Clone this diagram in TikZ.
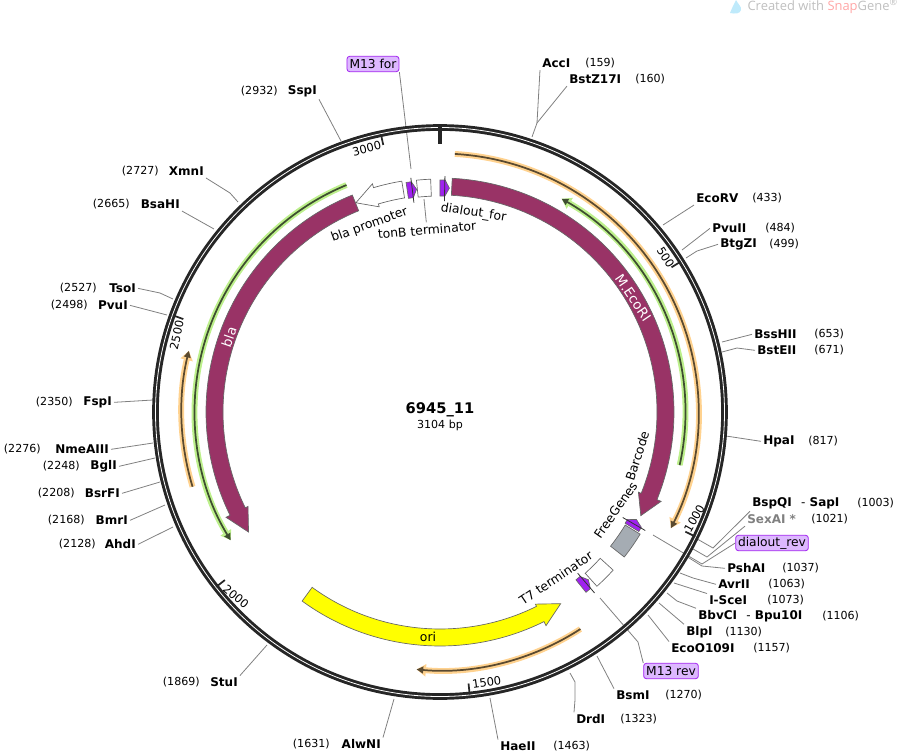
\documentclass[tikz,border=0pt]{standalone}
\usepackage{fontspec}
\setmainfont{DejaVu Sans}
\newfontfamily\markfont{Open Sans}
\usetikzlibrary{arrows.meta}

\definecolor{maroonf}{HTML}{993366}
\definecolor{purplef}{HTML}{A020F0}
\definecolor{greyf}{HTML}{A5ACB3}
\definecolor{yellowf}{HTML}{FFFF00}
\definecolor{primerbox}{HTML}{DDB8FF}
\definecolor{orangehalo}{HTML}{FFD28F}
\definecolor{orangeline}{HTML}{5A4A30}
\definecolor{greenhalo}{HTML}{BDF08C}
\definecolor{greenline}{HTML}{3E4E30}

\tikzset{
  site/.style={font=\fontsize{9}{11}\selectfont\bfseries, inner sep=1.5pt, yshift=-1pt},
  num/.style={font=\fontsize{8.3}{10}\selectfont, inner sep=1.5pt, yshift=-1pt},
  lead/.style={draw=black!50, line width=0.6pt},
  primer/.style={draw=purplef, fill=primerbox, rounded corners=2pt, line width=0.6pt, inner sep=0pt,
    minimum height=11.5pt, font=\fontsize{9.2}{11}\selectfont},
  feat/.style={draw=black!60, line width=0.5pt},
  flabel/.style={font=\fontsize{9.3}{11}\selectfont, inner sep=2pt},
  tlabel/.style={font=\fontsize{8.6}{11}\selectfont, inner sep=0pt},
  tick/.style={line width=1.3pt, black!85},
  orangeh/.style={orangehalo, line width=4.4pt, -{Stealth[length=7pt,width=9pt,inset=0pt]}},
  orangel/.style={orangeline, line width=1.3pt, -{Stealth[length=5pt,width=5pt,inset=0pt]}},
  greenh/.style={greenhalo, line width=4.4pt, -{Stealth[length=7pt,width=9pt,inset=0pt]}},
  greenl/.style={greenline, line width=1.3pt, -{Stealth[length=5pt,width=5pt,inset=0pt]}}
}

\begin{document}
\begin{tikzpicture}[x=0.75pt, y=0.75pt]
  \useasboundingbox (-440,-342) rectangle (460,412);

  % names of sites, right side
  \node[site, anchor=west] (accI) at (100,350) {AccI};
  \node[num, anchor=west] (accIn) at (143,350) {(159)};
  \node[site, anchor=west] (bstZ) at (127,334) {BstZ17I};
  \node[num, anchor=west] (bstZn) at (193,334) {(160)};
  \node[site, anchor=west] (ecoRV) at (254,215) {EcoRV};
  \node[num, anchor=west] (ecoRVn) at (310,215) {(433)};
  \node[site, anchor=west] (pvuII) at (270,185) {PvuII};
  \node[num, anchor=west] (pvuIIn) at (323,185) {(484)};
  \node[site, anchor=west] (btgZI) at (278,169) {BtgZI};
  \node[num, anchor=west] (btgZIn) at (327,169) {(499)};
  \node[site, anchor=west] (bssHII) at (312,79) {BssHII};
  \node[num, anchor=west] (bssHIIn) at (372,79) {(653)};
  \node[site, anchor=west] (bstEII) at (315,63) {BstEII};
  \node[num, anchor=west] (bstEIIn) at (372,63) {(671)};
  \node[site, anchor=west] (hpaI) at (321,-28) {HpaI};
  \node[num, anchor=west] (hpaIn) at (366,-28) {(817)};
  \node[site, anchor=west] (bspQI) at (310,-90) {BspQI\hspace{7pt}{\mdseries -} SapI};
  \node[num, anchor=west] (bspQIn) at (415,-90) {(1003)};
  \node[site, anchor=west, black!50] (sexAI) at (305,-106) {SexAI *};
  \node[num, anchor=west] (sexAIn) at (369,-106) {(1021)};
  \node[site, anchor=west] (pshAI) at (285,-155) {PshAI};
  \node[num, anchor=west] (pshAIn) at (340,-155) {(1037)};
  \node[site, anchor=west] (avrII) at (276,-171) {AvrII};
  \node[num, anchor=west] (avrIIn) at (326,-171) {(1063)};
  \node[site, anchor=west] (isceI) at (267,-187) {I-SceI};
  \node[num, anchor=west] (isceIn) at (325,-187) {(1073)};
  \node[site, anchor=west] (bbvCI) at (256,-203) {BbvCI\hspace{7pt}{\mdseries -} Bpu10I};
  \node[num, anchor=west] (bbvCIn) at (380,-203) {(1106)};
  \node[site, anchor=west] (blpI) at (244,-219) {BlpI};
  \node[num, anchor=west] (blpIn) at (283,-219) {(1130)};
  \node[site, anchor=west] (ecoO) at (229,-235) {EcoO109I};
  \node[num, anchor=west] (ecoOn) at (311,-235) {(1157)};
  \node[site, anchor=west] (bsmI) at (174,-282) {BsmI};
  \node[num, anchor=west] (bsmIn) at (223,-282) {(1270)};
  \node[site, anchor=west] (drdI) at (134,-306) {DrdI};
  \node[num, anchor=west] (drdIn) at (178,-306) {(1323)};
  \node[site, anchor=west] (haeII) at (58,-333) {HaeII};
  \node[num, anchor=west] (haeIIn) at (111,-333) {(1463)};

  % names of sites, left side
  \node[site, anchor=east] (alwNI) at (-57,-331) {AlwNI};
  \node[num, anchor=east] (alwNIn) at (-108,-331) {(1631)};
  \node[site, anchor=east] (stuI) at (-200,-269) {StuI};
  \node[num, anchor=east] (stuIn) at (-238,-269) {(1869)};
  \node[site, anchor=east] (ahdI) at (-302,-131) {AhdI};
  \node[num, anchor=east] (ahdIn) at (-342,-131) {(2128)};
  \node[site, anchor=east] (bmrI) at (-310,-107) {BmrI};
  \node[num, anchor=east] (bmrIn) at (-353,-107) {(2168)};
  \node[site, anchor=east] (bsrFI) at (-318,-80) {BsrFI};
  \node[num, anchor=east] (bsrFIn) at (-363,-80) {(2208)};
  \node[site, anchor=east] (bglI) at (-321,-53) {BglI};
  \node[num, anchor=east] (bglIn) at (-358,-53) {(2248)};
  \node[site, anchor=east] (nmeA) at (-329,-36) {NmeAIII};
  \node[num, anchor=east] (nmeAn) at (-397,-36) {(2276)};
  \node[site, anchor=east] (fspI) at (-326,11) {FspI};
  \node[num, anchor=east] (fspIn) at (-365,11) {(2350)};
  \node[site, anchor=east] (pvuI) at (-310,108) {PvuI};
  \node[num, anchor=east] (pvuIn) at (-350,108) {(2498)};
  \node[site, anchor=east] (tsoI) at (-302,125) {TsoI};
  \node[num, anchor=east] (tsoIn) at (-341,125) {(2527)};
  \node[site, anchor=east] (bsaHI) at (-258,209) {BsaHI};
  \node[num, anchor=east] (bsaHIn) at (-308,209) {(2665)};
  \node[site, anchor=east] (xmnI) at (-234,242) {XmnI};
  \node[num, anchor=east] (xmnIn) at (-279,242) {(2727)};
  \node[site, anchor=east] (sspI) at (-121,322) {SspI};
  \node[num, anchor=east] (sspIn) at (-160,322) {(2932)};

  % primer boxes
  \node[primer, minimum width=39pt] (m13for) at (-67,348) {M13 for};
  \node[primer, minimum width=54.5pt] (dialrev) at (332,-131) {dialout\_rev};
  \node[primer, minimum width=41pt] (m13rev) at (231,-259) {M13 rev};

  % feature and centre labels
  \node[flabel, rotate=20] (blapl) at (-70.5,187) {bla promoter};
  \node[flabel, rotate=5] (tonBl) at (-13,182) {tonB terminator};
  \node[flabel, rotate=-9] (dialforl) at (33.5,199) {dialout\_for};
  \node[flabel, rotate=34] (t7l) at (116,-166) {T7 terminator};
  \node[flabel, rotate=55] (fgl) at (175.7,-98) {FreeGenes};
  \node[flabel, rotate=72] (bcl) at (197.3,-44) {Barcode};
  \node[font=\fontsize{11}{13}\selectfont\bfseries, inner sep=0pt] (title) at (0,2) {6945\_11};
  \node[num, inner sep=0pt] (size) at (0,-12) {3104 bp};

  % ends of leads
  \coordinate (accIa) at (92,275);
  \coordinate (accIb) at (97,289);
  \coordinate (ecoRVa) at (223,187);
  \coordinate (pvuIIa) at (242,162);
  \coordinate (btgZIa) at (246,154);
  \coordinate (btgZIb) at (257,161);
  \coordinate (bssHIIa) at (282,70);
  \coordinate (bstEIIa) at (282,60);
  \coordinate (bstEIIb) at (297,64);
  \coordinate (hpaIa) at (286,-24);
  \coordinate (bspQIa) at (255.5,-126);
  \coordinate (bspQIb) at (273,-136);
  \coordinate (sexAIa) at (250.7,-135.6);
  \coordinate (sexAIb) at (267,-145);
  \coordinate (dialreva) at (213,-123);
  \coordinate (dialrevb) at (262,-152);
  \coordinate (pshAIa) at (246,-144);
  \coordinate (pshAIb) at (262,-154);
  \coordinate (avrIIa) at (240,-161);
  \coordinate (avrIIb) at (253,-166);
  \coordinate (isceIa) at (234,-171);
  \coordinate (bbvCIa) at (227,-181);
  \coordinate (bbvCIb) at (237,-189);
  \coordinate (blpIa) at (219,-191);
  \coordinate (ecoOa) at (208,-203);
  \coordinate (m13reva) at (160,-186);
  \coordinate (m13revb) at (198,-230);
  \coordinate (bsmIa) at (157,-244);
  \coordinate (drdIa) at (130,-261);
  \coordinate (drdIb) at (135,-270);
  \coordinate (drdIc) at (135,-288);
  \coordinate (haeIIa) at (50,-286);
  \coordinate (alwNIa) at (-46,-287);
  \coordinate (stuIa) at (-173,-233);
  \coordinate (ahdIa) at (-267,-115);
  \coordinate (bmrIa) at (-275,-93);
  \coordinate (bsrFIa) at (-280,-70);
  \coordinate (bglIa) at (-285,-46);
  \coordinate (nmeAa) at (-287,-31);
  \coordinate (fspIa) at (-287,12);
  \coordinate (pvuIa) at (-273,97);
  \coordinate (tsoIa) at (-267,113);
  \coordinate (tsoIb) at (-280,119);
  \coordinate (bsaHIa) at (-226,183);
  \coordinate (xmnIa) at (-202,210);
  \coordinate (xmnIb) at (-210,219);
  \coordinate (sspIa) at (-99,271);
  \coordinate (m13fora) at (-29,243);
  \coordinate (tonBa) at (-16,213);

  % leads
  \draw[lead] (accIa) -- (accIb) -- (accI.south west);
  \draw[lead] (accIb) -- (bstZ.south west);
  \draw[lead] (ecoRVa) -- (ecoRV.south west);
  \draw[lead] (pvuIIa) -- (pvuII.west);
  \draw[lead] (btgZIa) -- (btgZIb) -- (btgZI.west);
  \draw[lead] (bssHIIa) -- (bssHII.west);
  \draw[lead] (bstEIIa) -- (bstEIIb) -- (bstEII.west);
  \draw[lead] (hpaIa) -- (hpaI.west);
  \draw[lead] (bspQIa) -- (bspQIb) -- (bspQI.south west);
  \draw[lead] (sexAIa) -- (sexAIb) -- (sexAI.south west);
  \draw[lead] (dialreva) -- (dialrevb) -- (dialrev.west);
  \draw[lead] (pshAIa) -- (pshAIb) -- (pshAI.west);
  \draw[lead] (avrIIa) -- (avrIIb) -- (avrII.west);
  \draw[lead] (isceIa) -- (isceI.north west);
  \draw[lead] (bbvCIa) -- (bbvCIb) -- (bbvCI.north west);
  \draw[lead] (blpIa) -- (blpI.north west);
  \draw[lead] (ecoOa) -- (ecoO.north west);
  \draw[lead] (m13reva) -- (m13revb) -- (m13rev.north west);
  \draw[lead] (bsmIa) -- (bsmI.north west);
  \draw[lead] (drdIa) -- (drdIb) -- (drdIc) -- (drdI.north west);
  \draw[lead] (haeIIa) -- (haeII.north west);
  \draw[lead] (alwNIa) -- (alwNI.north east);
  \draw[lead] (stuIa) -- (stuI.north east);
  \draw[lead] (ahdIa) -- (ahdI.east);
  \draw[lead] (bmrIa) -- (bmrI.east);
  \draw[lead] (bsrFIa) -- (bsrFI.east);
  \draw[lead] (bglIa) -- (bglI.east);
  \draw[lead] (nmeAa) -- (nmeA.east);
  \draw[lead] (fspIa) -- (fspI.east);
  \draw[lead] (pvuIa) -- (pvuI.east);
  \draw[lead] (tsoIa) -- (tsoIb) -- (tsoI.east);
  \draw[lead] (bsaHIa) -- (bsaHI.south east);
  \draw[lead] (xmnIa) -- (xmnIb) -- (xmnI.south east);
  \draw[lead] (sspIa) -- (sspI.south east);
  \draw[lead] (m13fora) -- (m13for.south east);
  \draw[lead] (tonBa) -- (tonBl.north);

  % backbone
  \draw[black!85, line width=5pt] (0,0) circle (284.5);
  \draw[white, line width=0.6pt] (0,0) circle (284.5);
  \draw[line width=2.4pt, black!85] (90:285) -- (90:268);
  \draw[tick] (32:284) -- (32:273);
  \draw[tick] (-26:284) -- (-26:273);
  \draw[tick] (-84:284) -- (-84:273);
  \draw[tick] (-142:284) -- (-142:273);
  \draw[tick] (160.1:284) -- (160.1:273);
  \draw[tick] (102:284) -- (102:273);
  \node[tlabel, rotate=-58] (t500) at (225.7,154.7) {500};
  \node[tlabel, rotate=60] (t1000) at (254.3,-106.3) {1000};
  \node[tlabel, rotate=8] (t1500) at (46.7,-270.7) {1500};
  \node[tlabel, rotate=-40] (t2000) at (-204,-184.7) {2000};
  \node[tlabel, rotate=78] (t2500) at (-263.3,77) {2500};
  \node[tlabel, rotate=14] (t3000) at (-73.3,263.3) {3000};

  % orange and green lines
  \draw[orangeh] (86.7:258.5) arc[start angle=86.7, end angle=-26.7, radius=258.5];
  \draw[orangel] (86.7:258.5) arc[start angle=86.7, end angle=-26.7, radius=258.5];
  \draw[orangeh] (196.8:258.5) arc[start angle=196.8, end angle=166.3, radius=258.5];
  \draw[orangel] (196.8:258.5) arc[start angle=196.8, end angle=166.3, radius=258.5];
  \draw[orangeh] (-57.1:258.5) arc[start angle=-57.1, end angle=-95.2, radius=258.5];
  \draw[orangel] (-57.1:258.5) arc[start angle=-57.1, end angle=-95.2, radius=258.5];
  \draw[greenh] (-12.5:245.5) arc[start angle=-12.5, end angle=60.3, radius=245.5];
  \draw[greenl] (-12.5:245.5) arc[start angle=-12.5, end angle=60.3, radius=245.5];
  \draw[greenh] (112.4:245.5) arc[start angle=112.4, end angle=211.5, radius=245.5];
  \draw[greenl] (112.4:245.5) arc[start angle=112.4, end angle=211.5, radius=245.5];

  % big arrows
  \draw[feat, fill=maroonf] (87:234) arc[start angle=87, end angle=-22, radius=234]
    -- (-22:238.5) -- (-27.3:226) -- (-22:214) -- (-22:217)
    arc[start angle=-22, end angle=87, radius=217] -- cycle;
  \draw[feat, fill=maroonf] (112:234) arc[start angle=112, end angle=206.2, radius=234]
    -- (206.2:238.5) -- (212.1:226) -- (206.2:214) -- (206.2:217)
    arc[start angle=206.2, end angle=112, radius=217] -- cycle;
  \draw[feat, fill=yellowf] (233.9:234) arc[start angle=233.9, end angle=296.4, radius=234]
    -- (296.4:238.5) -- (302.2:226.5) -- (296.4:214.5) -- (296.4:217)
    arc[start angle=296.4, end angle=233.9, radius=217] -- cycle;
  \draw[feat, fill=white] (99.4:234) arc[start angle=99.4, end angle=106.5, radius=234]
    -- (106.5:238) -- (111.9:225.5) -- (106.5:214) -- (106.5:217)
    arc[start angle=106.5, end angle=99.4, radius=217] -- cycle;
  \node[flabel, font=\fontsize{10}{11}\selectfont, white, rotate=-56] (ecoRIl) at (193,114) {M.EcoRI};
  \node[flabel, font=\fontsize{10}{11}\selectfont, white, rotate=71] (blal) at (-211,75) {bla};
  \node[flabel] (oril) at (-12,-225) {ori};

  % boxes
  \draw[feat, fill=white] (95.8:233) arc[start angle=95.8, end angle=92.3, radius=233]
    -- (92.3:216) arc[start angle=92.3, end angle=95.8, radius=216] -- cycle;
  \draw[feat, fill=greyf] (-31.4:234.5) arc[start angle=-31.4, end angle=-38.2, radius=234.5]
    -- (-38.2:217) arc[start angle=-38.2, end angle=-31.4, radius=217] -- cycle;
  \draw[feat, fill=white] (-42.4:234.5) arc[start angle=-42.4, end angle=-48, radius=234.5]
    -- (-48:217) arc[start angle=-48, end angle=-42.4, radius=217] -- cycle;

  % primers
  \draw[feat, fill=purplef] (98.4:232) -- (97.1:232) -- (96:224) -- (97.1:216) -- (98.4:216) -- cycle;
  \draw[feat, fill=purplef] (90:232) -- (88.7:232) -- (87.6:224) -- (88.7:216) -- (90:216) -- cycle;
  \draw[feat, fill=purplef] (-31:232) -- (-29.8:232) -- (-28.7:224) -- (-29.8:216) -- (-31:216) -- cycle;
  \draw[feat, fill=purplef] (-51:232) -- (-49.6:232) -- (-48.5:224) -- (-49.6:216) -- (-51:216) -- cycle;
  \draw[black!80, line width=0.6pt] (97.1:211) -- (97.1:236);
  \draw[black!80, line width=0.6pt] (88.8:211) -- (88.8:236);
  \draw[black!80, line width=0.6pt] (-30:211) -- (-30:237);
  \draw[black!80, line width=0.6pt] (-49.5:212) -- (-49.5:238);

  % created with
  \fill[cyan!25] (290,399) .. controls (292,404) and (294,408) .. (296,412)
    .. controls (298,408) and (302,405) .. (301,402) .. controls (300,398) and (295,398) .. (290,399);
  \node[anchor=east, inner sep=0pt, font=\markfont\fontsize{9.7}{11}\selectfont, black!25] (mark) at (458,406)
    {Created with \textcolor{red!35}{Snap}Gene\textsuperscript{®}};
\end{tikzpicture}
\end{document}
